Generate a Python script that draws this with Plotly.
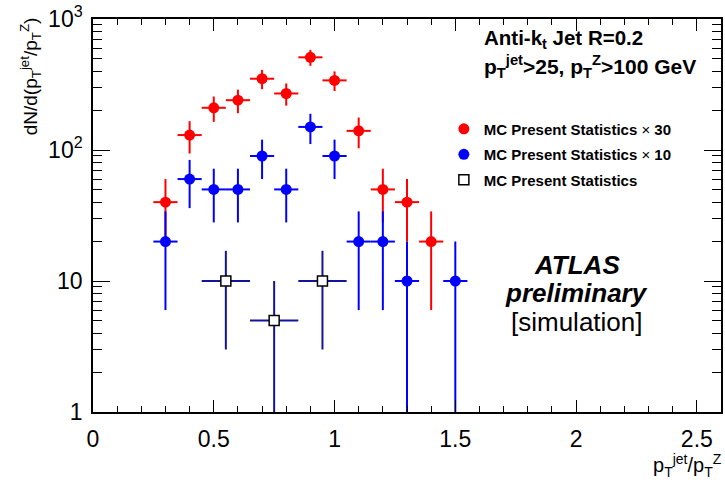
import plotly.graph_objects as go

# ---- data ----
x_red = [0.3, 0.4, 0.5, 0.6, 0.7, 0.8, 0.9, 1.0, 1.1, 1.2, 1.3, 1.4]
y_red = [40, 130, 210, 240, 350, 270, 510, 340, 140, 50, 40, 20]
err_red = [20, 36, 46, 49, 59, 52, 71, 58, 37, 22, 20, 14]

x_blue = [0.3, 0.4, 0.5, 0.6, 0.7, 0.8, 0.9, 1.0, 1.1, 1.2, 1.3, 1.5]
y_blue = [20, 60, 50, 50, 90, 50, 150, 90, 20, 20, 10, 10]
err_blue = [14, 24, 22, 22, 30, 22, 39, 30, 14, 14, 10, 10]

x_black = [0.55, 0.75, 0.95]
y_black = [10, 5, 10]
err_black = [7, 5, 7]

xhalf_fine = 0.05
xhalf_coarse = 0.1

x_tickvals = [0, 0.5, 1, 1.5, 2, 2.5]
x_ticktext = ["0", "0.5", "1", "1.5", "2", "2.5"]
y_tickvals = [1, 10, 100, 1000]
y_ticktext = ["1", "10", "10<sup>2</sup>", "10<sup>3</sup>"]
y_minor = [m * d for d in (1, 10, 100) for m in range(2, 10)]

FONT = "Liberation Sans, Arial, Helvetica, sans-serif"


def minus(vals, errs):
    # clamp lower error so it stays positive on a log axis
    return [min(e, v * 0.9999) for v, e in zip(vals, errs)]


fig = go.Figure()

fig.add_trace(go.Scatter(
    x=x_red, y=y_red, mode="markers",
    name="MC Present Statistics <span style='font-weight:normal'>×</span> 30",
    legendgroup="r",
    marker=dict(color="#ff0000", size=11, symbol="circle"),
    error_y=dict(type="data", array=err_red, arrayminus=minus(y_red, err_red),
                 color="#ff0000", thickness=2, width=0),
    error_x=dict(type="constant", value=xhalf_fine, color="#ff0000", thickness=2, width=0),
))
fig.add_trace(go.Scatter(
    x=x_blue, y=y_blue, mode="markers",
    name="MC Present Statistics <span style='font-weight:normal'>×</span> 10",
    legendgroup="b",
    marker=dict(color="#0000ff", size=11, symbol="circle"),
    error_y=dict(type="data", array=err_blue, arrayminus=minus(y_blue, err_blue),
                 color="#0000ff", thickness=2, width=0),
    error_x=dict(type="constant", value=xhalf_fine, color="#0000ff", thickness=2, width=0),
))
fig.add_trace(go.Scatter(
    x=x_black, y=y_black, mode="markers",
    name="MC Present Statistics",
    legendgroup="k",
    marker=dict(color="white", size=10, symbol="square",
                line=dict(color="black", width=1.5)),
    error_y=dict(type="data", array=err_black, arrayminus=minus(y_black, err_black),
                 color="#14149a", thickness=2, width=0),
    error_x=dict(type="constant", value=xhalf_coarse, color="#14149a", thickness=2, width=0),
))

axis_common = dict(
    showline=True, linecolor="black", linewidth=1.5, mirror="ticks",
    ticks="inside", tickcolor="black", tickwidth=1,
    showgrid=False, zeroline=False,
    tickfont=dict(family=FONT, size=23, color="black"),
)

fig.update_xaxes(
    range=[0, 2.6], tickmode="array", tickvals=x_tickvals, ticktext=x_ticktext,
    ticklen=12, ticklabelstandoff=6,
    minor=dict(ticks="inside", ticklen=6, dtick=0.1, tickcolor="black", tickwidth=1),
    **axis_common,
)
fig.update_yaxes(
    type="log", range=[0, 3], tickmode="array", tickvals=y_tickvals, ticktext=y_ticktext,
    ticklen=17, ticklabelstandoff=4,
    minor=dict(ticks="inside", ticklen=9, tickmode="array", tickvals=y_minor,
               tickcolor="black", tickwidth=1),
    **axis_common,
)

annotations = [
    dict(text="dN/d(p<sub>T</sub><sup>jet</sup>/p<sub>T</sub><sup>Z</sup>)",
         xref="paper", yref="paper", x=-0.1, y=1.01, xanchor="center", yanchor="top",
         textangle=-90, showarrow=False, font=dict(family=FONT, size=19, color="black")),
    dict(text="p<sub>T</sub><sup>jet</sup>/p<sub>T</sub><sup>Z</sup>",
         xref="paper", yref="paper", x=1.004, y=-0.137, xanchor="right", yanchor="middle",
         showarrow=False, font=dict(family=FONT, size=20, color="black")),
    dict(text="<b>Anti-k<sub>t</sub> Jet R=0.2</b>",
         xref="paper", yref="paper", x=0.619, y=0.948, xanchor="left", yanchor="middle",
         showarrow=False, font=dict(family=FONT, size=20.5, color="black")),
    dict(text="<b>p<sub>T</sub><sup>jet</sup>>25, p<sub>T</sub><sup>Z</sup>>100 GeV</b>",
         xref="paper", yref="paper", x=0.619, y=0.88, xanchor="left", yanchor="middle",
         showarrow=False, font=dict(family=FONT, size=21, color="black")),
    dict(text="<b><i>ATLAS</i></b>",
         xref="paper", yref="paper", x=0.77, y=0.373, xanchor="center", yanchor="middle",
         showarrow=False, font=dict(family=FONT, size=26, color="black")),
    dict(text="<b><i>preliminary</i></b>",
         xref="paper", yref="paper", x=0.77, y=0.302, xanchor="center", yanchor="middle",
         showarrow=False, font=dict(family=FONT, size=26, color="black")),
    dict(text="[simulation]",
         xref="paper", yref="paper", x=0.77, y=0.228, xanchor="center", yanchor="middle",
         showarrow=False, font=dict(family=FONT, size=26, color="black")),
]

fig.update_layout(
    width=725, height=483,
    margin=dict(l=93, r=2, t=18, b=71),
    paper_bgcolor="white", plot_bgcolor="white",
    showlegend=True,
    legend=dict(
        x=0.5587, y=0.762, xanchor="left", yanchor="top",
        bgcolor="rgba(0,0,0,0)", borderwidth=0,
        font=dict(family=FONT, size=15, color="black", weight="bold"),
        tracegroupgap=3, itemwidth=30,
    ),
    annotations=annotations,
)

fig.write_html(
    "out.html",
    config={"displayModeBar": False},
    post_script="document.body.style.margin='0';document.body.style.overflow='hidden';",
)
